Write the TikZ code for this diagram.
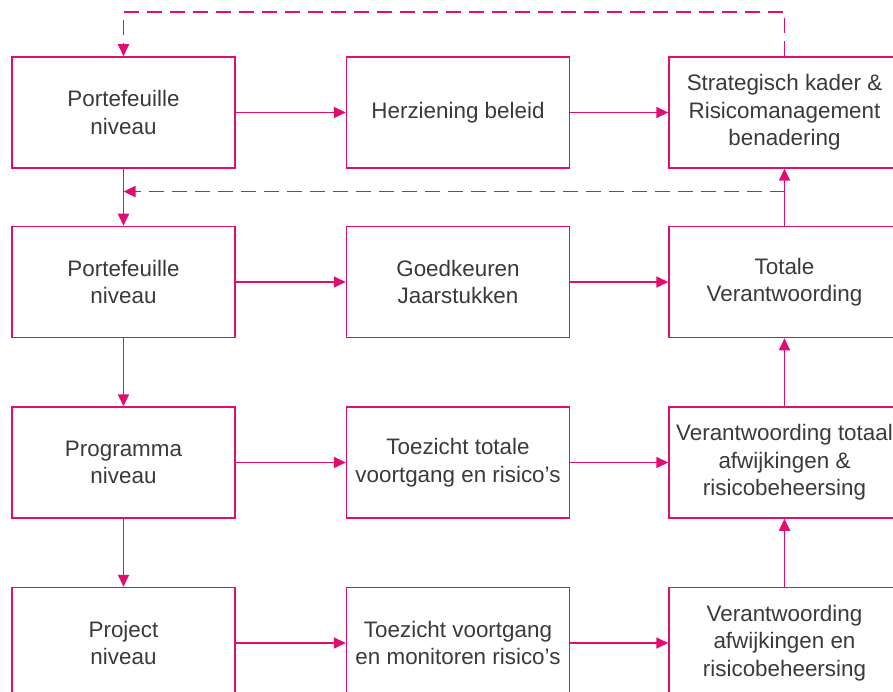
\documentclass[tikz,border=0pt]{standalone}
\usepackage{fontspec}
\setmainfont{Liberation Sans}
\usepackage{xcolor}
\usetikzlibrary{arrows.meta,positioning,calc}

\definecolor{roze}{RGB}{226,12,112}
\definecolor{tekst}{RGB}{58,58,58}

\begin{document}
\begin{tikzpicture}[
  x=1pt, y=-1pt,
  blok/.style={rectangle, draw=roze, line width=1.5pt, fill=white, minimum width=223pt,
               minimum height=111pt, align=center, text=tekst,
               font=\fontsize{22.4}{27.5}\selectfont},
  blokbreed/.style={blok, minimum width=231pt},
  arr/.style={-{Triangle[length=12pt,width=11pt]}, line width=1.7pt, roze},
  dasharr/.style={-{Triangle[length=12pt,width=11pt]}, line width=1.7pt, roze,
                  dash pattern=on 15pt off 8pt},
]
\useasboundingbox (0,0) rectangle (893,692);

% Left column
\node[blok] (pf1) at (123.5,112.5) {Portefeuille\\niveau};
\node[blok, below=57pt of pf1] (pf2) {Portefeuille\\niveau};
\node[blok, below=68pt of pf2] (prog) {Programma\\niveau};
\node[blok, below=68pt of prog] (proj) {Project\\niveau};

% Middle column
\node[blok, right=110pt of pf1] (herz) {Herziening beleid};
\node[blok, right=110pt of pf2] (goed) {Goedkeuren\\Jaarstukken};
\node[blok, right=110pt of prog] (toez1) {Toezicht totale\\voortgang en risico's};
\node[blok, right=110pt of proj] (toez2) {Toezicht voortgang\\en monitoren risico's};

% Right column
\node[blokbreed, right=98pt of herz] (strat) {Strategisch kader \&\\Risicomanagement\\benadering};
\node[blokbreed, right=98pt of goed] (tot) {Totale\\Verantwoording};
\node[blokbreed, right=98pt of toez1] (ver1) {Verantwoording totaal\\afwijkingen \&\\risicobeheersing};
\node[blokbreed, right=98pt of toez2] (ver2) {Verantwoording\\afwijkingen en\\risicobeheersing};

% Horizontal flow
\draw[arr] (pf1) -- (herz);
\draw[arr] (herz) -- (strat);
\draw[arr] (pf2) -- (goed);
\draw[arr] (goed) -- (tot);
\draw[arr] (prog) -- (toez1);
\draw[arr] (toez1) -- (ver1);
\draw[arr] (proj) -- (toez2);
\draw[arr] (toez2) -- (ver2);

% Down the left, up the right
\draw[arr] (pf1) -- (pf2);
\draw[arr] (pf2) -- (prog);
\draw[arr] (prog) -- (proj);
\draw[arr] (ver2) -- (ver1);
\draw[arr] (ver1) -- (tot);
\draw[arr] (tot) -- (strat);

% Feedback loops
\draw[dasharr] (strat.north) -- ++(0,-44) -| (pf1.north);
\draw[dasharr] ($(tot.north)!0.6!(strat.south)$) -- ($(pf2.north)!0.6!(pf1.south)$);

\end{tikzpicture}
\end{document}
